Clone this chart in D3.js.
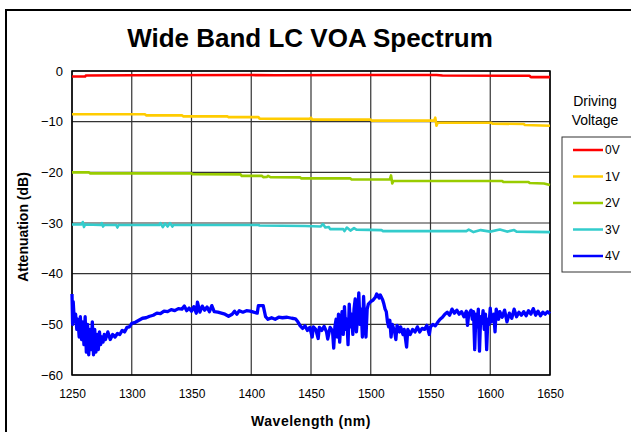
<!DOCTYPE html>
<html>
<head>
<meta charset="utf-8">
<title>Wide Band LC VOA Spectrum</title>
<script src="https://d3js.org/d3.v7.min.js"></script>
<style>
  body { margin: 0; background: #fff; }
  text { font-family: "Liberation Sans", Arial, sans-serif; }
</style>
</head>
<body>
<script>
// data: [wavelength nm, attenuation dB]
var xTicks = [1250, 1300, 1350, 1400, 1450, 1500, 1550, 1600, 1650];
var yTicks = [0, -10, -20, -30, -40, -50, -60];
var seriesNames = ["0V", "1V", "2V", "3V", "4V"];
var seriesColors = ["#ff0000", "#ffcc00", "#99cc00", "#33cccc", "#0000ff"];

var v0 = [[1250,-1.1],[1261,-1.1],[1261.5,-0.9],[1300,-0.85],[1400,-0.8],[1420,-0.85],
  [1500,-0.8],[1555,-0.8],[1560,-0.9],[1633,-0.95],[1634,-1.2],[1650,-1.2]];

var v1 = [[1250,-8.55],[1311,-8.55],[1312,-8.75],[1342,-8.75],[1343,-8.95],[1380,-8.95],
  [1381,-9.1],[1406,-9.1],[1407,-9.4],[1449,-9.45],[1450,-9.2],[1451,-9.6],[1500,-9.6],
  [1501,-9.8],[1553,-9.8],[1554,-9.2],[1555,-10.8],[1556,-10.2],[1601,-10.2],[1602,-10.4],
  [1628,-10.45],[1629,-10.65],[1650,-10.8]];

var v2 = [[1250,-20.0],[1264,-20.0],[1265,-20.2],[1350,-20.2],[1351,-20.35],[1391,-20.4],
  [1392,-20.7],[1409,-20.7],[1410,-20.95],[1413,-20.9],[1414,-20.7],[1416,-20.95],
  [1441,-21.0],[1442,-21.2],[1483,-21.2],[1484,-21.4],[1516,-21.4],[1517,-20.6],
  [1518,-22.2],[1519,-21.7],[1610,-21.7],[1611,-21.9],[1632,-21.9],[1633,-22.1],
  [1645,-22.2],[1650,-22.5]];

var v3 = [[1250,-30.3],[1258,-30.3],[1259,-29.8],[1260,-30.8],[1261,-30.3],[1274,-30.4],
  [1275,-30.0],[1276,-30.7],[1277,-30.4],[1287,-30.4],[1288,-30.9],[1289,-30.4],
  [1323,-30.4],[1324,-30.0],[1326,-30.8],[1328,-30.1],[1330,-30.7],[1332,-30.0],
  [1334,-30.7],[1335,-30.4],[1406,-30.4],[1407,-30.5],[1445,-30.6],[1458,-30.7],
  [1460,-30.2],[1462,-30.9],[1465,-30.8],[1466,-31.2],[1477,-31.2],[1478,-31.6],
  [1480,-30.9],[1483,-31.5],[1486,-31.0],[1488,-31.3],[1509,-31.4],[1510,-31.6],
  [1580,-31.6],[1582,-31.3],[1586,-31.8],[1592,-31.4],[1600,-31.7],[1608,-31.3],
  [1614,-31.7],[1620,-31.4],[1622,-31.7],[1650,-31.8]];

var v4 = [[1250,-44.0],[1250.5,-50.0],[1251,-45.5],[1252,-49.5],[1253,-48.0],[1254,-51.0],
  [1255,-49.0],[1256,-52.5],[1257,-48.5],[1258,-53.0],[1259,-49.5],[1260,-54.0],
  [1261,-48.5],[1262,-55.5],[1263,-50.0],[1264,-56.0],[1265,-51.0],[1266,-55.0],
  [1267,-49.5],[1268,-56.0],[1269,-51.0],[1270,-55.5],[1271,-52.0],[1272,-55.0],
  [1273,-51.5],[1274,-54.0],[1275,-52.5],[1276,-53.5],[1277,-52.0],[1278,-53.0],
  [1280,-51.5],[1282,-53.0],[1284,-52.0],[1286,-52.5],[1288,-51.8],[1290,-52.0],
  [1292,-51.2],[1294,-51.5],[1296,-50.6],[1298,-50.5],[1300,-49.8],[1303,-49.6],
  [1306,-49.2],[1309,-48.8],[1312,-48.7],[1315,-48.4],[1318,-48.2],[1321,-47.8],
  [1324,-47.9],[1327,-47.4],[1330,-47.5],[1333,-47.1],[1336,-47.3],[1339,-46.9],
  [1342,-47.0],[1344,-46.4],[1346,-47.3],[1348,-46.8],[1350,-47.4],[1352,-46.5],
  [1354,-47.8],[1355,-45.6],[1357,-47.6],[1359,-46.4],[1361,-47.2],[1363,-46.6],
  [1365,-47.5],[1367,-46.3],[1369,-47.5],[1372,-47.6],[1375,-47.8],[1378,-48.0],
  [1381,-48.4],[1384,-48.0],[1386,-47.4],[1388,-48.0],[1390,-47.3],[1393,-47.6],
  [1396,-47.3],[1399,-47.4],[1402,-47.6],[1405,-47.8],[1406,-46.3],[1410,-46.3],
  [1412,-48.5],[1414,-49.0],[1417,-48.7],[1420,-49.0],[1423,-48.6],[1426,-48.7],
  [1430,-48.6],[1434,-48.8],[1437,-48.9],[1439,-49.5],[1441,-50.3],[1443,-50.8],
  [1445,-50.3],[1447,-51.2],[1449,-50.6],[1451,-52.5],[1452,-50.5],[1454,-51.0],
  [1456,-52.8],[1457,-50.6],[1459,-51.2],[1461,-50.4],[1463,-51.5],[1464,-52.9],
  [1466,-50.6],[1468,-51.3],[1469,-54.7],[1470,-50.5],[1471,-49.0],[1472,-52.5],
  [1473,-48.0],[1474,-53.5],[1475,-49.5],[1476,-47.5],[1477,-52.0],[1478,-46.5],
  [1479,-51.0],[1480,-49.0],[1481,-54.0],[1482,-46.0],[1483,-50.5],[1484,-48.0],
  [1485,-52.0],[1486,-47.0],[1487,-45.0],[1488,-51.5],[1489,-48.5],[1490,-43.8],
  [1491,-50.0],[1492,-47.0],[1493,-52.5],[1494,-44.5],[1495,-49.5],[1496,-52.5],
  [1497,-47.0],[1498,-46.0],[1500,-45.5],[1502,-45.2],[1504,-44.6],[1505,-44.0],
  [1507,-44.8],[1508,-44.2],[1510,-45.2],[1511,-46.0],[1512,-47.0],[1513,-47.5],
  [1514,-49.5],[1515,-50.5],[1516,-49.2],[1517,-52.5],[1518,-50.0],[1520,-51.5],
  [1521,-53.0],[1522,-50.2],[1524,-51.5],[1525,-50.5],[1527,-52.0],[1528,-51.0],
  [1530,-54.5],[1531,-51.0],[1533,-52.0],[1535,-51.0],[1537,-51.5],[1539,-50.5],
  [1541,-51.5],[1543,-50.8],[1545,-51.0],[1547,-50.2],[1549,-52.0],[1550,-50.5],
  [1552,-50.0],[1554,-50.3],[1556,-49.6],[1558,-49.0],[1560,-48.6],[1562,-48.0],
  [1564,-47.6],[1566,-48.2],[1568,-47.0],[1570,-47.8],[1572,-47.2],[1574,-48.0],
  [1576,-47.5],[1578,-48.5],[1580,-47.4],[1581,-50.2],[1582,-48.0],[1584,-47.2],
  [1585,-49.0],[1586,-47.5],[1587,-55.0],[1588,-48.0],[1589,-50.5],[1590,-47.0],
  [1591,-55.3],[1592,-48.5],[1593,-49.8],[1594,-47.3],[1595,-51.0],[1596,-48.0],
  [1597,-55.0],[1598,-49.0],[1599,-50.0],[1600,-46.8],[1601,-49.5],[1603,-48.0],
  [1604,-51.5],[1605,-47.0],[1607,-49.0],[1608,-47.5],[1610,-48.6],[1612,-47.2],
  [1614,-49.5],[1616,-47.8],[1618,-48.8],[1620,-47.0],[1622,-48.5],[1624,-47.6],
  [1626,-48.2],[1628,-47.5],[1630,-48.3],[1632,-47.3],[1634,-48.0],[1636,-46.9],
  [1638,-48.2],[1640,-47.4],[1642,-48.3],[1644,-47.6],[1646,-48.0],[1648,-47.5],
  [1650,-47.9]];

var allSeries = [v0, v1, v2, v3, v4];

var W = 631, H = 432;
var svg = d3.select("body").append("svg").attr("width", W).attr("height", H);

// outer frame
svg.append("rect").attr("x", 6).attr("y", 10).attr("width", 640).attr("height", 440)
  .attr("fill", "none").attr("stroke", "#000").attr("stroke-width", 2);

var pLeft = 72, pTop = 71, pRight = 550, pBottom = 375;
var x = d3.scaleLinear().domain([1250, 1650]).range([pLeft, pRight]);
var y = d3.scaleLinear().domain([-60, 0]).range([pBottom, pTop]);

// grid
svg.append("g").selectAll("line").data(xTicks).enter().append("line")
  .attr("x1", d => x(d)).attr("x2", d => x(d)).attr("y1", pTop).attr("y2", pBottom)
  .attr("stroke", "#333").attr("stroke-width", 1.2);
svg.append("g").selectAll("line").data(yTicks).enter().append("line")
  .attr("x1", pLeft).attr("x2", pRight).attr("y1", d => y(d)).attr("y2", d => y(d))
  .attr("stroke", "#333").attr("stroke-width", 1.2);

svg.append("rect").attr("x", pLeft).attr("y", pTop).attr("width", pRight - pLeft)
  .attr("height", pBottom - pTop).attr("fill", "none").attr("stroke", "#000").attr("stroke-width", 1.5);

// axes labels
var xAxis = svg.append("g").attr("transform", "translate(0," + pBottom + ")")
  .call(d3.axisBottom(x).tickValues(xTicks).tickSize(0).tickPadding(14).tickFormat(d3.format("d")));
var yAxis = svg.append("g").attr("transform", "translate(" + pLeft + ",0)")
  .call(d3.axisLeft(y).tickValues(yTicks).tickSize(0).tickPadding(9).tickFormat(d3.format("d")));
[xAxis, yAxis].forEach(function(a) {
  a.select(".domain").remove();
  a.selectAll("text").attr("font-family", "Liberation Sans, Arial, sans-serif")
    .attr("fill", "#000");
});
xAxis.selectAll("text").attr("font-size", 12);
yAxis.selectAll("text").attr("font-size", 13);

// series
var line = d3.line().x(d => x(d[0])).y(d => y(d[1]));
allSeries.forEach(function(s, i) {
  svg.append("path").datum(s).attr("d", line).attr("fill", "none")
    .attr("stroke", seriesColors[i]).attr("stroke-width", i == 4 ? 3.3 : 2.6)
    .attr("stroke-linejoin", "round");
});

// titles
svg.append("text").attr("x", 310).attr("y", 47).attr("text-anchor", "middle")
  .attr("font-size", 26).attr("font-weight", "bold").text("Wide Band LC VOA Spectrum");
svg.append("text").attr("x", 311).attr("y", 426).attr("text-anchor", "middle")
  .attr("font-size", 14).attr("font-weight", "bold").attr("letter-spacing", 0.5)
  .text("Wavelength (nm)");
svg.append("text").attr("transform", "translate(28,227) rotate(-90)").attr("text-anchor", "middle")
  .attr("font-size", 14).attr("font-weight", "bold").text("Attenuation (dB)");

// legend
svg.append("text").attr("x", 595).attr("y", 106).attr("text-anchor", "middle")
  .attr("font-size", 14).text("Driving");
svg.append("text").attr("x", 595).attr("y", 125).attr("text-anchor", "middle")
  .attr("font-size", 14).text("Voltage");
svg.append("rect").attr("x", 562).attr("y", 137).attr("width", 100).attr("height", 135)
  .attr("fill", "#fff").attr("stroke", "#333").attr("stroke-width", 1);
var lg = svg.append("g").selectAll("g").data(seriesNames).enter().append("g")
  .attr("transform", (d, i) => "translate(0," + (150 + i * 26.5) + ")");
lg.append("line").attr("x1", 573).attr("x2", 603).attr("stroke", (d, i) => seriesColors[i])
  .attr("stroke-width", 2.5);
lg.append("text").attr("x", 605).attr("dy", "0.35em").attr("font-size", 12).text(d => d);
</script>
</body>
</html>
